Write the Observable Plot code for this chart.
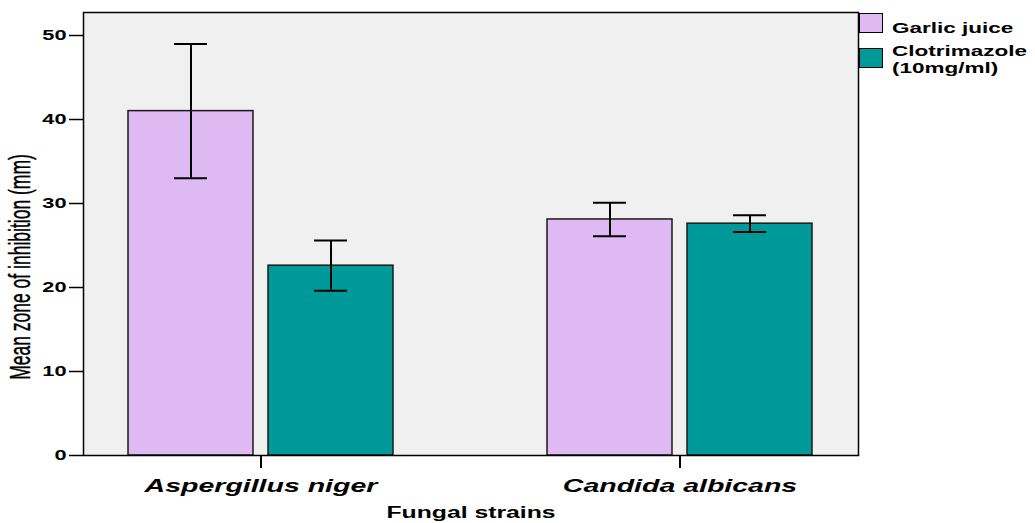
<!DOCTYPE html>
<html>
<head>
<meta charset="utf-8">
<script src="https://cdn.jsdelivr.net/npm/d3@7"></script>
<script src="https://cdn.jsdelivr.net/npm/@observablehq/plot@0.6"></script>
<style>
  body { margin: 0; background: #fff; font-family: "Liberation Sans", Arial, sans-serif; }
  #wrap { position: relative; width: 1035px; height: 523px; overflow: hidden; }
  #ylabel { position: absolute; left: 21px; top: 267px; transform-origin: 0 0;
    transform: scaleX(1.65) rotate(-90deg) translate(-50%, -50%);
    font-size: 17.5px; line-height: 1; white-space: nowrap; color: #000;
    -webkit-text-stroke: 0.25px #000; }
  .lg-sw { position: absolute; width: 24px; height: 20px; border: 1px solid #000; box-sizing: border-box; }
  .lg-tx { position: absolute; font-size: 15px; font-weight: bold; line-height: 17px; color: #000;
    transform: scaleX(1.5); transform-origin: 0 0; white-space: nowrap; }
</style>
</head>
<body>
<div id="wrap"></div>
<script>
// ---- data ----
const strains = ["Aspergillus niger", "Candida albicans"];
const series = ["Garlic juice", "Clotrimazole (10mg/ml)"];
const legendLines = [["Garlic juice"], ["Clotrimazole", "(10mg/ml)"]];
const garlicMean = [41.0, 28.1];
const garlicErr = [8.0, 2.0];
const clotMean = [22.6, 27.6];
const clotErr = [3.0, 1.0];
const yTicks = [0, 10, 20, 30, 40, 50];
const colors = ["#dfb9f2", "#009999"];

const garlic = strains.map((s, i) => ({strain: s, series: series[0], mean: garlicMean[i], lo: garlicMean[i] - garlicErr[i], hi: garlicMean[i] + garlicErr[i]}));
const clot = strains.map((s, i) => ({strain: s, series: series[1], mean: clotMean[i], lo: clotMean[i] - clotErr[i], hi: clotMean[i] + clotErr[i]}));

const barStroke = {stroke: "#1a1a1a", strokeWidth: 1.5};
const errStyle = {stroke: "#000", strokeWidth: 2};

const chart = Plot.plot({
  width: 1035,
  height: 523,
  marginLeft: 83,
  marginRight: 177,
  marginTop: 12,
  marginBottom: 68,
  style: {fontFamily: "'Liberation Sans', Arial, sans-serif", color: "#000", background: "transparent", overflow: "visible"},
  x: {domain: strains, paddingInner: 0.3667, paddingOuter: 0.106, align: 0.5},
  y: {domain: [0, 52.74]},
  marks: [
    Plot.frame({fill: "#f0f0f0", stroke: "none"}),
    Plot.barY(garlic, {x: "strain", y: "mean", fill: colors[0], ...barStroke, insetRight: 140}),
    Plot.barY(clot, {x: "strain", y: "mean", fill: colors[1], ...barStroke, insetLeft: 140}),
    Plot.ruleX(garlic, {x: "strain", y1: "lo", y2: "hi", dx: -70, ...errStyle}),
    Plot.ruleX(clot, {x: "strain", y1: "lo", y2: "hi", dx: 70, ...errStyle}),
    Plot.tickY(garlic, {x: "strain", y: "lo", insetLeft: 46, insetRight: 186, ...errStyle}),
    Plot.tickY(garlic, {x: "strain", y: "hi", insetLeft: 46, insetRight: 186, ...errStyle}),
    Plot.tickY(clot, {x: "strain", y: "lo", insetLeft: 186, insetRight: 46, ...errStyle}),
    Plot.tickY(clot, {x: "strain", y: "hi", insetLeft: 186, insetRight: 46, ...errStyle}),
    Plot.frame({stroke: "#000", strokeWidth: 1.5}),
    Plot.axisY({ticks: yTicks, tickSize: 14, tickPadding: 3, tickFormat: d => String(d), fontSize: 14.5, fontWeight: "bold", strokeWidth: 1.5, label: null}),
    Plot.axisX({tickSize: 13, tickPadding: 10, fontSize: 19, fontWeight: "bold", fontStyle: "italic", strokeWidth: 2, label: null}),
    Plot.text(["Fungal strains"], {frameAnchor: "bottom", dy: 62, fontSize: 16.5, fontWeight: "bold", fill: "#000"})
  ]
});

// horizontal stretch of the text (the reference is rendered wide)
chart.querySelectorAll("text").forEach(t => {
  const tr = t.getAttribute("transform");
  if (tr && /^\s*translate\(/.test(tr)) {
    t.setAttribute("transform", tr.replace(/^\s*(translate\([^)]*\))/, "$1 scale(1.5,1)"));
  } else {
    const x = +(t.getAttribute("x") || 0), y = +(t.getAttribute("y") || 0);
    t.setAttribute("transform", `translate(${x},${y}) scale(1.5,1) translate(${-x},${-y})` + (tr ? " " + tr : ""));
  }
});

const wrap = document.getElementById("wrap");
wrap.appendChild(chart);

const yl = document.createElement("div");
yl.id = "ylabel";
yl.textContent = "Mean zone of inhibition (mm)";
wrap.appendChild(yl);

// legend
const swTops = [13, 48];
const txTops = [19, 42];
series.forEach((s, i) => {
  const sw = document.createElement("div");
  sw.className = "lg-sw";
  sw.style.left = "859px";
  sw.style.top = swTops[i] + "px";
  sw.style.background = colors[i];
  wrap.appendChild(sw);
  const tx = document.createElement("div");
  tx.className = "lg-tx";
  tx.style.left = "892px";
  tx.style.top = txTops[i] + "px";
  tx.innerHTML = legendLines[i].join("<br>");
  wrap.appendChild(tx);
});
</script>
</body>
</html>
